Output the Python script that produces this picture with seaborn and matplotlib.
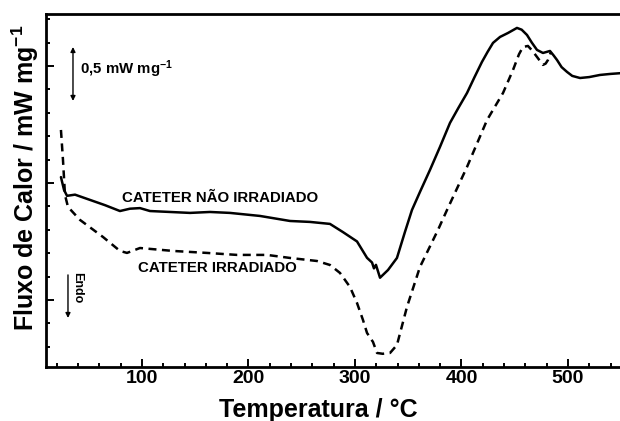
import matplotlib
matplotlib.use("Agg")
import matplotlib.pyplot as plt
import seaborn as sns
import pandas as pd
from matplotlib.ticker import MultipleLocator, NullFormatter

# --- data ---
temp_nao = [23.9, 26.8, 29.6, 37.1, 51.2, 65.3, 79.3, 88.7, 98.1, 107.5, 126.3, 145.1,
            163.8, 182.6, 210.8, 239.0, 257.7, 276.5, 288.7, 301.9, 311.3, 316.0, 317.8,
            319.7, 323.5, 331.0, 339.4, 346.9, 353.5, 361.0, 370.4, 379.8, 389.2, 397.0,
            405.2, 412.0, 419.2, 424.5, 429.6, 436.2, 443.7, 452.1, 456.5, 461.5, 466.0,
            470.9, 476.5, 480.0, 483.1, 486.5, 489.7, 494.0, 499.1, 504.0, 511.3, 520.0,
            530.0, 540.0, 552.0]
flux_nao = [1.05, 0.94, 0.89, 0.90, 0.855, 0.81, 0.76, 0.78, 0.785, 0.76, 0.752, 0.744,
            0.752, 0.744, 0.718, 0.675, 0.667, 0.65, 0.58, 0.50, 0.36, 0.32, 0.27,
            0.30, 0.19, 0.256, 0.359, 0.581, 0.769, 0.923, 1.111, 1.308, 1.513, 1.64,
            1.769, 1.90, 2.034, 2.12, 2.197, 2.248, 2.282, 2.325, 2.31, 2.265, 2.20,
            2.137, 2.111, 2.12, 2.128, 2.09, 2.051, 1.99, 1.949, 1.915, 1.897, 1.905,
            1.923, 1.932, 1.94]

temp_irr = [23.9, 25.8, 27.7, 30.5, 41.8, 63.4, 79.3, 85.9, 98.1, 129.1, 161.0, 189.2,
            217.4, 239.0, 264.3, 276.5, 285.9, 295.3, 301.9, 307.5, 311.3, 316.9, 320.7,
            326.0, 332.9, 339.4, 348.8, 361.0, 377.9, 386.4, 405.2, 424.0, 439.0, 448.4,
            454.0, 457.7, 462.4, 466.5, 470.9, 476.5, 479.0, 481.2, 484.0]
flux_irr = [1.453, 1.197, 0.897, 0.795, 0.684, 0.538, 0.419, 0.402, 0.444, 0.419, 0.402, 0.385,
            0.385, 0.359, 0.333, 0.299, 0.231, 0.111, -0.026, -0.171, -0.282, -0.359, -0.453,
            -0.46, -0.453, -0.385, -0.060, 0.282, 0.598, 0.769, 1.137, 1.538, 1.769, 1.966,
            2.10, 2.162, 2.171, 2.13, 2.077, 2.009, 2.02, 2.051, 2.12]

label_nao = "CATETER NÃO IRRADIADO"
label_irr = "CATETER IRRADIADO"

df_nao = pd.DataFrame({"T": temp_nao, "F": flux_nao})
df_irr = pd.DataFrame({"T": temp_irr, "F": flux_irr})

sns.set_theme(style="ticks")
plt.rcParams["font.family"] = ["Liberation Sans", "DejaVu Sans"]
plt.rcParams["font.weight"] = "bold"
plt.rcParams["text.color"] = "black"
plt.rcParams["axes.labelcolor"] = "black"
plt.rcParams["xtick.color"] = "black"
plt.rcParams["ytick.color"] = "black"
plt.rcParams["mathtext.fontset"] = "custom"
plt.rcParams["mathtext.rm"] = "Liberation Sans:bold"
plt.rcParams["mathtext.bf"] = "Liberation Sans:bold"
plt.rcParams["mathtext.it"] = "Liberation Sans:bold"
plt.rcParams["mathtext.default"] = "bf"

fig = plt.figure(figsize=(6.2, 4.21), dpi=100)
ax = fig.add_axes([46 / 620, 1 - 367 / 421, (624 - 46) / 620, (367 - 14) / 421])

sns.lineplot(data=df_nao, x="T", y="F", ax=ax, color="black", lw=1.8,
             sort=False, estimator=None)
sns.lineplot(data=df_irr, x="T", y="F", ax=ax, color="black", lw=1.8,
             linestyle=(0, (3.2, 2.2)), sort=False, estimator=None)

ax.set_xlim(9.86, 552.6)
ax.set_ylim(-0.573, 2.444)
ax.xaxis.set_major_locator(MultipleLocator(100))
ax.xaxis.set_minor_locator(MultipleLocator(20))
ax.yaxis.set_major_locator(MultipleLocator(1))
ax.yaxis.set_minor_locator(MultipleLocator(0.2))
ax.yaxis.set_major_formatter(NullFormatter())
ax.tick_params(which="both", direction="in", width=1.4, colors="black")
ax.tick_params(which="major", length=5.5)
ax.tick_params(which="minor", length=3)
ax.tick_params(axis="x", labelsize=14, pad=2, labelcolor="black")
for lab in ax.get_xticklabels():
    lab.set_fontweight("bold")
for s in ["left", "bottom", "top"]:
    ax.spines[s].set_linewidth(2)
    ax.spines[s].set_color("black")
ax.spines["right"].set_visible(False)
ax.set_xlabel("")
ax.set_ylabel("")

fig.text(318.5 / 620, 1 - 417 / 421, "Temperatura / °C", ha="center", va="baseline",
         fontsize=18, fontweight="bold", color="black")
fig.text(25 / 620, 1 - 178 / 421, r"Fluxo de Calor / mW mg$^{-1}$", rotation=90,
         ha="center", va="center", fontsize=18, fontweight="bold", color="black")

ax.text(81.2, 0.838, label_nao, ha="left", va="baseline", fontsize=10.8,
        fontweight="bold", color="black")
ax.text(96.2, 0.239, label_irr, ha="left", va="baseline", fontsize=10.8,
        fontweight="bold", color="black")
ax.text(41.8, 1.932, r"0,5 mW mg$^{-1}$", ha="left", va="baseline", fontsize=10.8,
        fontweight="bold", color="black")

ax.annotate("", xy=(35.2, 2.162), xytext=(35.2, 1.701),
            arrowprops=dict(arrowstyle="<|-|>", color="black", lw=1.0,
                            mutation_scale=7, shrinkA=0, shrinkB=0))
ax.annotate("", xy=(30.5, -0.154), xytext=(30.5, 0.214),
            arrowprops=dict(arrowstyle="-|>", color="black", lw=1.0,
                            mutation_scale=7, shrinkA=0, shrinkB=0))
ax.text(39.0, 0.239, "Endo", rotation=-90, ha="center", va="top", fontsize=9,
        fontweight="bold", color="black")

fig.savefig("out.png", dpi=100)
